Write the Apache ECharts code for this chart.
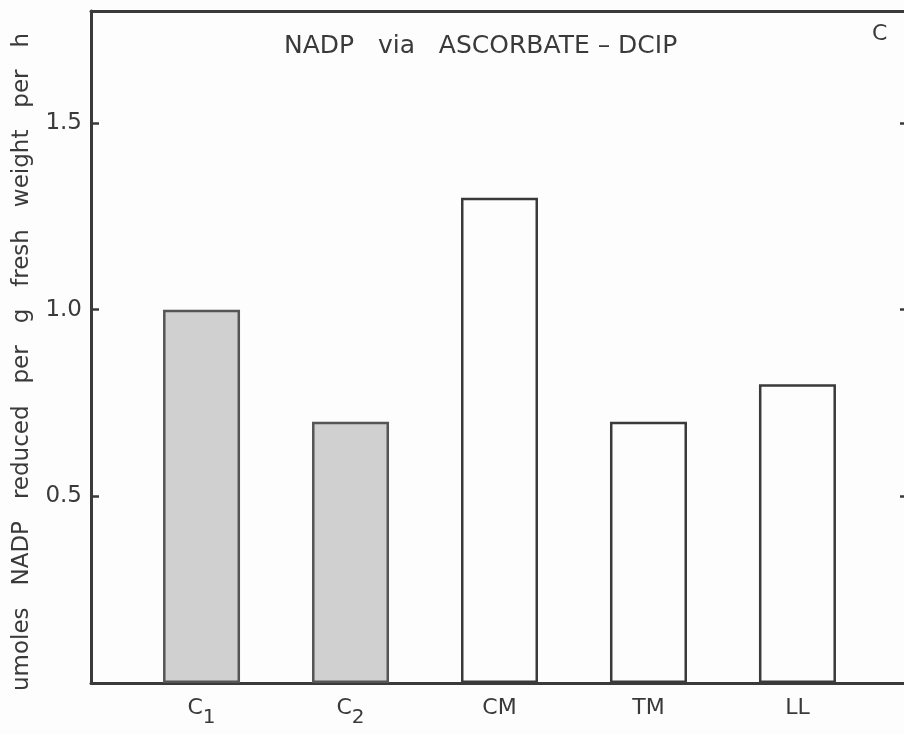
<!DOCTYPE html>
<html>
<head>
<meta charset="utf-8">
<script src="https://cdn.jsdelivr.net/npm/echarts@6/dist/echarts.min.js"></script>
<style>
  html, body { margin: 0; padding: 0; background: #fdfdfd; }
  #chart { width: 904px; height: 735px; }
</style>
</head>
<body>
<div id="chart"></div>
<script>
// Treatments along the x axis; [letter, subscript]
const categories = [['C', '1'], ['C', '2'], ['CM', ''], ['TM', ''], ['LL', '']];
// NADP reduction rate (umoles per g fresh weight per h)
const rates = [1.00, 0.70, 1.30, 0.70, 0.80];
// Control groups are drawn shaded, treatments open
const shaded = [true, true, false, false, false];
// Labelled y ticks
const yTicks = [0.5, 1.0, 1.5];

const ink = '#3a3a3a';
const font = 'DejaVu Sans';
const positions = categories.map((_, i) => i + 1);

const chart = echarts.init(document.getElementById('chart'));
chart.setOption({
  backgroundColor: '#fdfdfd',
  animation: false,
  grid: { left: 91, top: 11, right: -4, bottom: 52, outerBoundsMode: 'none', containLabel: false },
  title: [
    {
      text: 'NADP   via   ASCORBATE – DCIP',
      left: 279, top: 29,
      textStyle: { fontFamily: font, fontSize: 25, fontWeight: 'normal', color: ink }
    },
    {
      text: 'C',
      left: 867, top: 18,
      textStyle: { fontFamily: font, fontSize: 22, fontWeight: 'normal', color: ink }
    }
  ],
  xAxis: [
    {
      type: 'value', min: 0.258, max: 5.742,
      splitLine: { show: false },
      axisLine: { show: true, onZero: false, lineStyle: { color: ink, width: 3 } },
      axisTick: { show: false },
      axisLabel: {
        customValues: positions,
        margin: 14,
        formatter: v => {
          const c = categories[Math.round(v) - 1];
          return c[1] ? '{b|' + c[0] + '}{s|' + c[1] + '}' : '{b|' + c[0] + '}';
        },
        rich: {
          b: { fontFamily: font, fontSize: 22, color: ink, verticalAlign: 'top' },
          s: { fontFamily: font, fontSize: 20, color: ink, verticalAlign: 'top', padding: [11, 0, 0, 0] }
        }
      }
    },
    {
      type: 'value', min: 0.258, max: 5.742, position: 'top',
      splitLine: { show: false },
      axisLine: { show: true, onZero: false, lineStyle: { color: ink, width: 3 } },
      axisTick: { show: false },
      axisLabel: { show: false }
    }
  ],
  yAxis: [
    {
      type: 'value', min: 0, max: 1.8,
      name: 'umoles   NADP   reduced   per   g   fresh   weight   per   h',
      nameLocation: 'middle', nameGap: 57, nameRotate: 90,
      nameTextStyle: { fontFamily: font, fontSize: 23, color: ink, padding: [0, 30, 0, 0] },
      splitLine: { show: false },
      axisLine: { show: true, lineStyle: { color: ink, width: 3 } },
      axisTick: { show: true, inside: true, length: 8, customValues: yTicks, lineStyle: { color: ink, width: 2.5 } },
      axisLabel: {
        customValues: yTicks, margin: 9,
        formatter: v => v.toFixed(1),
        fontFamily: font, fontSize: 23, color: ink
      }
    },
    {
      type: 'value', min: 0, max: 1.8, position: 'right',
      splitLine: { show: false },
      axisLine: { show: true, lineStyle: { color: ink, width: 3 } },
      axisTick: { show: true, inside: true, length: 8, customValues: yTicks, lineStyle: { color: ink, width: 2.5 } },
      axisLabel: { show: false }
    }
  ],
  series: [{
    type: 'bar',
    barWidth: 77,
    data: rates.map((v, i) => ({
      value: [positions[i], v],
      itemStyle: {
        color: shaded[i] ? '#d0d0d0' : '#fdfdfd',
        borderColor: shaded[i] ? '#555' : ink,
        borderWidth: 2.5
      }
    }))
  }]
});
</script>
</body>
</html>
